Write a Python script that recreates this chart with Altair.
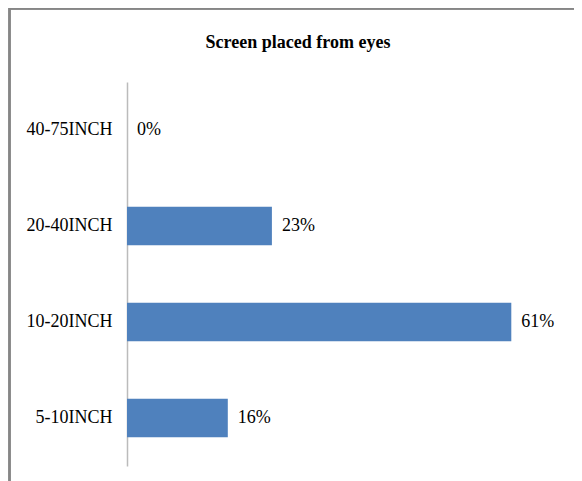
import altair as alt
import pandas as pd

categories = ["40-75INCH", "20-40INCH", "10-20INCH", "5-10INCH"]
values = [0, 23, 61, 16]
labels = ["0%", "23%", "61%", "16%"]
title_text = "Screen placed from eyes"

df = pd.DataFrame({"cat": categories, "val": values, "lab": labels})

W, H = 441, 384
FONT = "Liberation Serif"

y_enc = alt.Y(
    "cat:N",
    sort=categories,
    scale=alt.Scale(paddingInner=0.6, paddingOuter=0.3),
    axis=alt.Axis(
        title=None, ticks=False, labelPadding=15, labelFont=FONT,
        labelFontSize=18, labelColor="#000000", domainColor="#BBBBBB",
        domainWidth=1.5, grid=False,
    ),
)
x_enc = alt.X("val:Q", scale=alt.Scale(domain=[0, 70]), axis=None)

base = alt.Chart(df)

frame = alt.Chart(df).mark_rect(fill=None, stroke="#868686", strokeWidth=2).encode(
    x=alt.value(-117.5), x2=alt.value(W + 60),
    y=alt.value(-73.5), y2=alt.value(H + 60),
)

title = alt.Chart(pd.DataFrame({"t": [title_text]})).mark_text(
    font=FONT, fontSize=18, fontWeight="bold", color="#000000",
    align="center", baseline="alphabetic",
).encode(x=alt.value(171), y=alt.value(-34), text="t:N")

bars = base.mark_bar(color="#4F81BD").encode(x=x_enc, y=y_enc)
text = base.mark_text(align="left", baseline="middle", dx=10, font=FONT,
                      fontSize=18, color="#000000").encode(
    x=x_enc, y=y_enc, text="lab:N")

chart = alt.layer(frame, title, bars, text).properties(
    width=W, height=H,
    autosize=alt.AutoSizeParams(type="none"),
    padding={"left": 119, "top": 74, "right": 6, "bottom": 15},
).configure_view(strokeWidth=0)

chart.save("out.html", embed_options={"renderer": "svg", "actions": False})
